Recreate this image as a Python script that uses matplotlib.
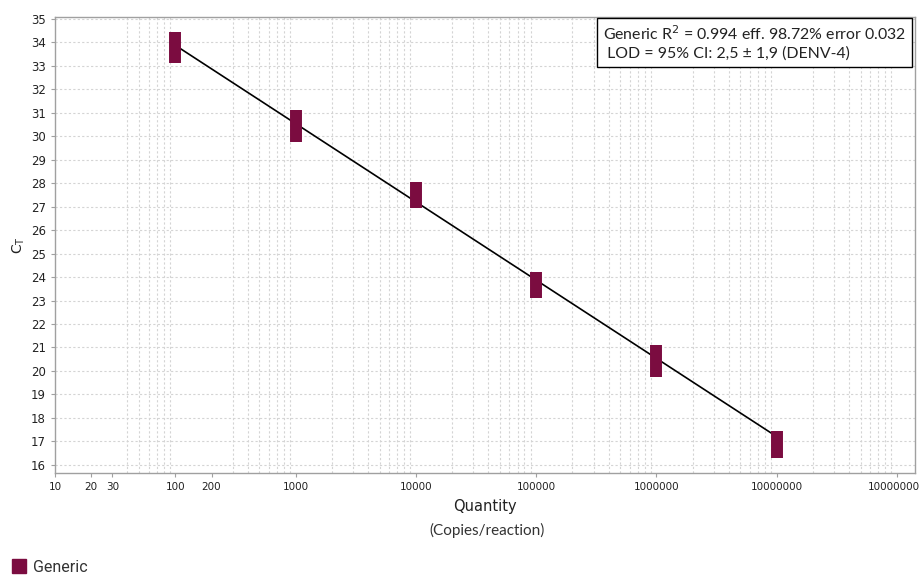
import matplotlib.pyplot as plt
from matplotlib.ticker import FixedLocator, LogLocator, NullFormatter
import numpy as np

# standard curve points (copies/reaction vs Ct range of replicates)
quantity = [1e2, 1e3, 1e4, 1e5, 1e6, 1e7]
ct_high = [34.43, 31.12, 28.07, 24.23, 21.11, 17.42]
ct_low = [33.11, 29.75, 26.93, 23.10, 19.73, 16.28]

# regression line end points
line_q = [1e2, 1e7]
line_ct = [33.88, 17.20]

xtick_vals = [10, 20, 30, 100, 200, 1000, 10000, 100000, 1000000, 10000000, 100000000]
xtick_labels = [str(v) for v in xtick_vals]
ytick_vals = list(range(16, 36))

color = '#7b0c40'

fig = plt.figure(figsize=(9.2, 5.75), dpi=100)
ax = fig.add_axes([0.0598, 0.1774, 0.9348, 0.7936])

ax.set_xscale('log')
ax.set_xlim(10, 10 ** 8.15)
ax.set_ylim(15.65, 35.1)

# grid
ax.xaxis.set_minor_locator(LogLocator(base=10, subs=np.arange(1, 10)))
ax.xaxis.set_minor_formatter(NullFormatter())
ax.grid(which='minor', axis='x', color='#d4d4d4', linestyle=(0, (2, 2)), linewidth=0.8)
ax.grid(which='major', axis='y', color='#d4d4d4', linestyle=(0, (2, 2)), linewidth=0.8)
ax.tick_params(axis='x', which='minor', length=0)

ax.xaxis.set_major_locator(FixedLocator(xtick_vals))
ax.set_xticklabels(xtick_labels)
ax.set_yticks(ytick_vals)
ax.tick_params(axis='x', which='major', labelsize=7.5, length=3, width=0.8,
               color='#a0a0a0', labelcolor='#222222')
ax.tick_params(axis='y', labelsize=8.5, length=3, width=0.8,
               color='#a0a0a0', labelcolor='#222222')

for s in ax.spines.values():
    s.set_color('#a0a0a0')
    s.set_linewidth(1.0)

ax.plot(line_q, line_ct, color='black', linewidth=1.2, zorder=3)
ax.vlines(quantity, ct_low, ct_high, colors=color, linewidth=8.6, zorder=4)

ax.set_ylabel(r'C$_\mathregular{T}$', fontsize=10, color='#222222', labelpad=3)
ax.set_xlabel('Quantity', fontsize=10.5, color='#222222', labelpad=5)
fig.text(0.529, 0.077, '(Copies/reaction)', fontsize=11, family='Lato',
         color='#333333', ha='center', va='center')

# legend at bottom left
fig.patches.append(plt.Rectangle((12 / 920, 2 / 575), 14 / 920, 14 / 575,
                                 transform=fig.transFigure, color=color))
fig.text(33 / 920, 1 - 567 / 575, 'Generic', fontsize=11.5, family='Roboto',
         color='#333333', va='center')

ax.text(0.637, 0.983,
        'Generic R$^2$ = 0.994 eff. 98.72% error 0.032\n LOD = 95% CI: 2,5 \u00b1 1,9 (DENV-4)',
        transform=ax.transAxes, fontsize=11.4, family='Lato', color='#222222',
        va='top', ha='left', linespacing=1.3,
        bbox=dict(boxstyle='square,pad=0.4', facecolor='white', edgecolor='black',
                  linewidth=1.0), zorder=6)

fig.savefig('out.png', dpi=100)
